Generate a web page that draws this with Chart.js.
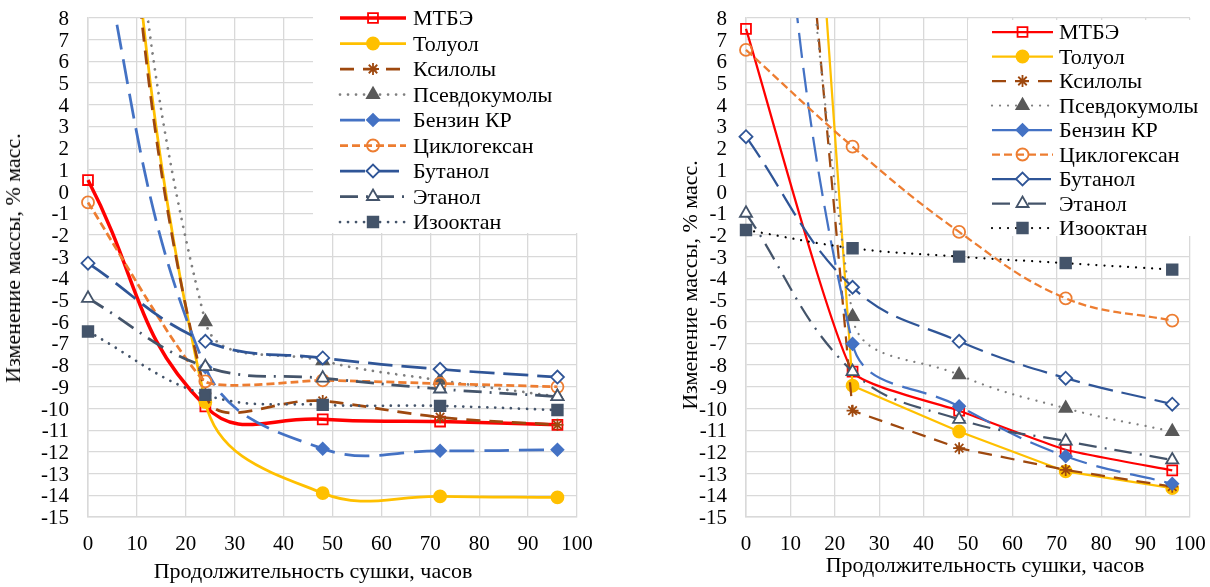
<!DOCTYPE html>
<html>
<head>
<meta charset="utf-8">
<script src="https://cdn.jsdelivr.net/npm/chart.js@4.4.1/dist/chart.umd.min.js"></script>
<style>
  body { margin: 0; background: #fff; width: 1210px; height: 587px; overflow: hidden;
    font-family: 'Liberation Serif', 'Times New Roman', serif; color: #000; }
  .panel { position: absolute; top: 0; width: 605px; height: 587px; }
  .panel canvas { position: absolute; left: 0; top: 0; }
  .lbl { position: absolute; white-space: nowrap; line-height: 1; }
  .tick { font-size: 21px; }
  .title, .legend-text { font-size: 22px; }
</style>
</head>
<body>
<div class="panel" id="left-panel" style="left:0"><canvas id="left-chart" width="605" height="587"></canvas></div>
<div class="panel" id="right-panel" style="left:605px"><canvas id="right-chart" width="605" height="587"></canvas></div>
<script>
// drying time, hours
const hours = [0, 24, 48, 72, 96];

const seriesNames = ['МТБЭ', 'Толуол', 'Ксилолы', 'Псевдокумолы', 'Бензин КР',
  'Циклогексан', 'Бутанол', 'Этанол', 'Изооктан'];

const yTitle = 'Изменение массы, % масс.';
const xTitle = 'Продолжительность сушки, часов';

// left chart, % mass change (first points of the aromatics go off the top)
const leftMtbe = [0.53, -9.9, -10.5, -10.6, -10.75];
const leftToluene = [35, -9.7, -13.9, -14.05, -14.1];
const leftXylenes = [35, -9.3, -9.65, -10.4, -10.75];
const leftPseudocumene = [35, -6.0, -7.8, -8.7, -9.45];
const leftGasoline = [14, -8.1, -11.85, -11.95, -11.9];
const leftCyclohexane = [-0.5, -8.75, -8.7, -8.85, -9.0];
const leftButanol = [-3.3, -6.9, -7.67, -8.19, -8.55];
const leftEthanol = [-4.92, -8.07, -8.6, -9.1, -9.45];
const leftIsooctane = [-6.45, -9.37, -9.83, -9.88, -10.07];

// right chart
const rightMtbe = [7.5, -8.3, -10.1, -11.9, -12.85];
const rightToluene = [61, -8.95, -11.06, -12.9, -13.67];
const rightXylenes = [44, -10.1, -11.83, -12.83, -13.6];
const rightPseudocumene = [60, -5.76, -8.45, -9.99, -11.06];
const rightGasoline = [33, -7.02, -9.9, -12.2, -13.47];
const rightCyclohexane = [6.53, 2.07, -1.86, -4.92, -5.95];
const rightButanol = [2.53, -4.41, -6.9, -8.6, -9.8];
const rightEthanol = [-1.0, -8.3, -10.5, -11.5, -12.37];
const rightIsooctane = [-1.77, -2.61, -3.0, -3.3, -3.6];

const yMin = -15, yMax = 8;
const xMin = 0, xMax = 100;

// per-series look: color, dash, marker
const styles = [
  { color: '#FF0000', dash: [], marker: 'rect', fill: 'rgba(0,0,0,0)', radius: 7 },
  { color: '#FFC000', dash: [], marker: 'circle', fill: '#FFC000', radius: 6 },
  { color: '#9E480E', dash: [14, 9], marker: 'star', fill: '#9E480E', radius: 6 },
  { color: '#7F7F7F', dash: [0.01, 8], cap: 'round', marker: 'triangle', fill: '#595959', edge: '#595959', radius: 7 },
  { color: '#4472C4', dash: [25, 10], marker: 'rectRot', fill: '#4472C4', radius: 6 },
  { color: '#ED7D31', dash: [8, 4], marker: 'circle', fill: 'rgba(0,0,0,0)', radius: 6 },
  { color: '#2F5597', dash: [25, 9], marker: 'rectRot', fill: '#fff', radius: 6.5 },
  { color: '#44546A', dash: [18, 8, 2, 8], marker: 'triangle', fill: '#fff', radius: 7 },
  { color: '#44546A', dash: [0.01, 8], cap: 'round', marker: 'rect', fill: '#44546A', radius: 7.5 },
];

function points(values) {
  return hours.map((h, i) => ({ x: h, y: values[i] }));
}

function makeDatasets(seriesValues, widths, tensions, lineColors) {
  return seriesValues.map((values, i) => {
    const st = styles[i];
    const color = (lineColors && lineColors[i]) || st.color;
    return {
      label: seriesNames[i],
      data: points(values),
      borderColor: color,
      borderWidth: widths[i],
      borderDash: st.dash,
      borderCapStyle: st.cap || 'butt',
      tension: tensions[i],
      pointStyle: st.marker,
      pointRadius: st.radius,
      pointBackgroundColor: st.fill,
      pointBorderColor: st.edge || st.color,
      pointBorderWidth: 1.8,
      clip: { left: 12, top: 0, right: 12, bottom: 12 },
      order: 20 - i,
    };
  });
}

// legend box with line samples and markers (its text is added as html below)
const boxLegend = {
  id: 'boxLegend',
  afterDatasetsDraw(chart, args, opts) {
    const ctx = chart.ctx;
    ctx.save();
    ctx.fillStyle = '#fff';
    ctx.fillRect(opts.left, opts.top, opts.width, opts.height);
    const mid = (opts.lineStart + opts.lineEnd) / 2;
    chart.data.datasets.forEach((ds, i) => {
      const y = opts.firstRow + i * opts.rowGap;
      ctx.strokeStyle = ds.borderColor;
      ctx.lineWidth = ds.borderWidth;
      ctx.lineCap = ds.borderCapStyle;
      ctx.setLineDash(ds.borderDash);
      ctx.beginPath();
      ctx.moveTo(opts.lineStart, y);
      ctx.lineTo(opts.lineEnd, y);
      ctx.stroke();
      ctx.setLineDash([]);
      ctx.lineCap = 'butt';
      ctx.fillStyle = ds.pointBackgroundColor;
      ctx.strokeStyle = ds.pointBorderColor;
      ctx.lineWidth = ds.pointBorderWidth;
      Chart.helpers.drawPoint(ctx, {
        pointStyle: ds.pointStyle, radius: ds.pointRadius,
        borderWidth: ds.pointBorderWidth, rotation: 0
      }, mid, y);
    });
    ctx.restore();
  }
};

function makeChart(canvasId, datasets, layout, legendBox) {
  return new Chart(document.getElementById(canvasId), {
    type: 'line',
    data: { datasets },
    plugins: [boxLegend],
    options: {
      responsive: false,
      animation: false,
      locale: 'en-US',
      layout: { padding: layout.padding },
      plugins: {
        legend: { display: false },
        tooltip: { enabled: false },
        boxLegend: legendBox,
      },
      scales: {
        x: {
          type: 'linear',
          min: xMin,
          max: xMax,
          afterFit: s => { s.height = 70; },
          grid: { color: '#D9D9D9', lineWidth: 1.3, drawTicks: false },
          border: { color: '#D9D9D9', width: 1.5 },
          ticks: { stepSize: 10, display: false },
        },
        y: {
          min: yMin,
          max: yMax,
          afterFit: s => { s.width = layout.yWidth; },
          grid: { color: '#D9D9D9', lineWidth: 1.3, drawTicks: false },
          border: { color: '#D9D9D9', width: 1.5 },
          ticks: { stepSize: 1, display: false, autoSkip: false },
        },
      },
    },
  });
}

function addLabel(panel, text, cls, css) {
  const el = document.createElement('div');
  el.className = 'lbl ' + cls;
  el.textContent = text;
  Object.assign(el.style, css);
  panel.appendChild(el);
  return el;
}

// tick labels, axis titles and legend text placed from the chart's own scales
function addTexts(chart, panelId, t, legendBox) {
  const panel = document.getElementById(panelId);
  const area = chart.chartArea;
  const xs = chart.scales.x;
  const ys = chart.scales.y;
  ys.ticks.forEach(tk => {
    addLabel(panel, tk.label, 'tick', {
      right: (605 - (area.left - 19)) + 'px',
      top: ys.getPixelForValue(tk.value) + 'px',
      transform: 'translateY(-50%)'
    });
  });
  xs.ticks.forEach(tk => {
    addLabel(panel, tk.label, 'tick', {
      left: xs.getPixelForValue(tk.value) + 'px',
      top: t.xTickY + 'px',
      transform: 'translate(-50%, -50%)'
    });
  });
  addLabel(panel, xTitle, 'title', {
    left: t.xTitleX + 'px', top: t.xTitleY + 'px', transform: 'translate(-50%, -50%)'
  });
  addLabel(panel, yTitle, 'title', {
    left: t.yTitleX + 'px', top: t.yTitleY + 'px',
    transform: 'translate(-50%, -50%) rotate(-90deg)'
  });
  seriesNames.forEach((name, i) => {
    addLabel(panel, name, 'legend-text', {
      left: legendBox.textX + 'px',
      top: (legendBox.firstRow + i * legendBox.rowGap) + 'px',
      transform: 'translateY(-50%)'
    });
  });
}

const leftLegend = { left: 313, top: 0, width: 266, height: 233, firstRow: 18, rowGap: 25.5,
  lineStart: 340, lineEnd: 406, textX: 413 };
const rightLegend = { left: 363, top: 20, width: 225, height: 216, firstRow: 32, rowGap: 24.5,
  lineStart: 387, lineEnd: 448, textX: 454 };

const leftChart = makeChart('left-chart',
  makeDatasets(
    [leftMtbe, leftToluene, leftXylenes, leftPseudocumene, leftGasoline,
      leftCyclohexane, leftButanol, leftEthanol, leftIsooctane],
    [3.5, 2.75, 2.75, 2.75, 2.75, 2.75, 2.75, 2.75, 2.75],
    [0.45, 0.4, 0.4, 0.4, 0.4, 0.15, 0.4, 0.4, 0.4]
  ),
  { padding: { left: 0, top: 18, right: 28, bottom: 0 }, yWidth: 88 },
  leftLegend
);

const rightChart = makeChart('right-chart',
  makeDatasets(
    [rightMtbe, rightToluene, rightXylenes, rightPseudocumene, rightGasoline,
      rightCyclohexane, rightButanol, rightEthanol, rightIsooctane],
    [2.25, 2.25, 2.25, 2.25, 2.25, 2.25, 2.25, 2.25, 2.25],
    [0.15, 0, 0, 0.4, 0.4, 0.4, 0.4, 0.4, 0.4],
    [null, null, null, null, null, null, null, null, '#000000']
  ),
  { padding: { left: 70, top: 18, right: 20, bottom: 0 }, yWidth: 71 },
  rightLegend
);

addTexts(leftChart, 'left-panel',
  { xTickY: 543, xTitleX: 313, xTitleY: 571, yTitleX: 13, yTitleY: 258 }, leftLegend);
addTexts(rightChart, 'right-panel',
  { xTickY: 543, xTitleX: 380, xTitleY: 565, yTitleX: 85, yTitleY: 285 }, rightLegend);
</script>
</body>
</html>
